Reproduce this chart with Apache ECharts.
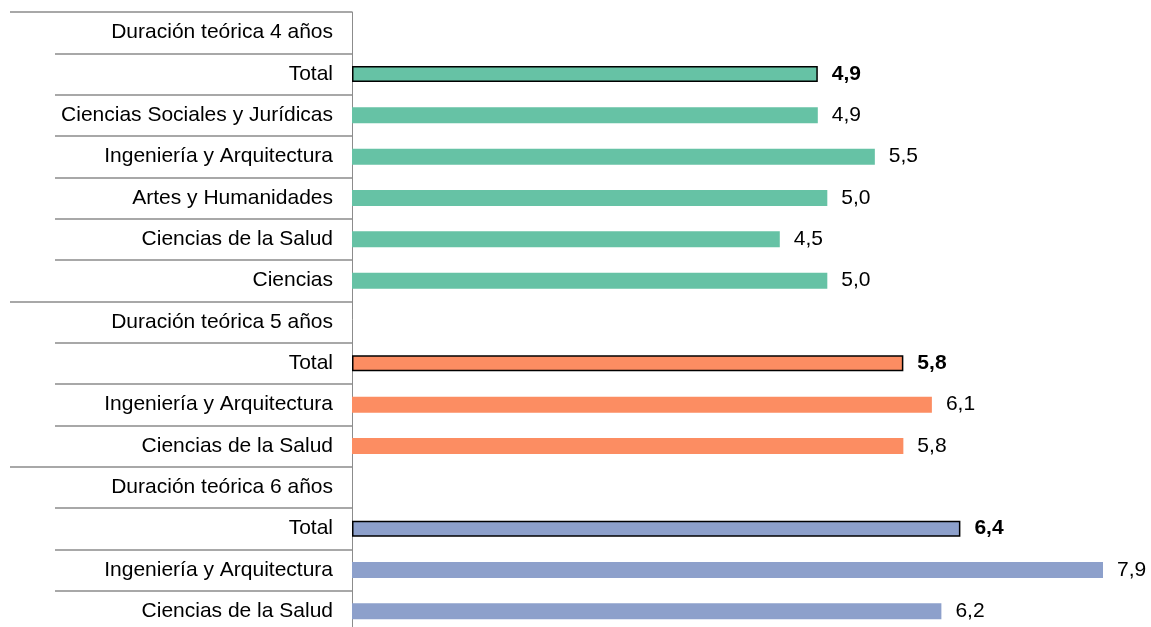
<!DOCTYPE html>
<html>
<head>
<meta charset="utf-8">
<script src="https://cdn.jsdelivr.net/npm/echarts@6/dist/echarts.min.js"></script>
<style>
  html, body { margin: 0; padding: 0; background: #fff; }
  #chart { width: 1151px; height: 627px; }
</style>
</head>
<body>
<div id="chart"></div>
<script>
// filas de arriba a abajo
const categories = [
  'Duración teórica 4 años', 'Total', 'Ciencias Sociales y Jurídicas',
  'Ingeniería y Arquitectura', 'Artes y Humanidades', 'Ciencias de la Salud', 'Ciencias',
  'Duración teórica 5 años', 'Total', 'Ingeniería y Arquitectura', 'Ciencias de la Salud',
  'Duración teórica 6 años', 'Total', 'Ingeniería y Arquitectura', 'Ciencias de la Salud'
]
const values = [null, 4.9, 4.9, 5.5, 5.0, 4.5, 5.0, null, 5.8, 6.1, 5.8, null, 6.4, 7.9, 6.2]
// grupo de cada fila (0 = 4 años, 1 = 5 años, 2 = 6 años)
const groups = [0, 0, 0, 0, 0, 0, 0, 1, 1, 1, 1, 2, 2, 2, 2]
const headerRows = [0, 7, 11]
const groupColors = ['#66c2a5', '#fc8d62', '#8da0cb']

const chart = echarts.init(document.getElementById('chart'))

const barData = values.map((v, i) => {
  if (v === null) return '-'
  const isTotal = categories[i] === 'Total'
  return {
    value: v,
    itemStyle: {
      color: groupColors[groups[i]],
      borderColor: isTotal ? '#000' : 'transparent',
      borderWidth: isTotal ? 1.5 : 0
    },
    label: { fontWeight: isTotal ? 'bold' : 'normal' }
  }
})

const option = {
  animation: false,
  // la última fila queda algo cortada por abajo, como en el original
  grid: { left: 352, top: 12, width: 760.5, height: 620, outerBoundsMode: 'none' },
  xAxis: { type: 'value', min: 0, max: 8, show: false },
  yAxis: [
    {
      type: 'category',
      data: categories,
      inverse: true,
      axisLine: { show: true, lineStyle: { color: '#8c8c8c', width: 1 } },
      axisTick: { show: true, length: 297, lineStyle: { color: '#8c8c8c', width: 1.5 } },
      axisLabel: {
        margin: 19,
        color: '#000',
        fontSize: 21,
        fontFamily: 'Liberation Sans, Arial, sans-serif',
        interval: 0
      }
    },
    {
      type: 'category',
      data: categories,
      inverse: true,
      position: 'left',
      axisLine: { show: false },
      axisLabel: { show: false },
      axisTick: {
        show: true,
        length: 342,
        interval: (idx) => headerRows.includes(idx),
        lineStyle: { color: '#8c8c8c', width: 1.5 }
      }
    }
  ],
  series: [{
    type: 'bar',
    data: barData,
    barWidth: 16,
    label: {
      show: true,
      position: 'right',
      distance: 14,
      color: '#000',
      fontSize: 21,
      fontFamily: 'Liberation Sans, Arial, sans-serif',
      formatter: (p) => p.value.toFixed(1).replace('.', ',')
    }
  }]
}

chart.setOption(option)
</script>
</body>
</html>
